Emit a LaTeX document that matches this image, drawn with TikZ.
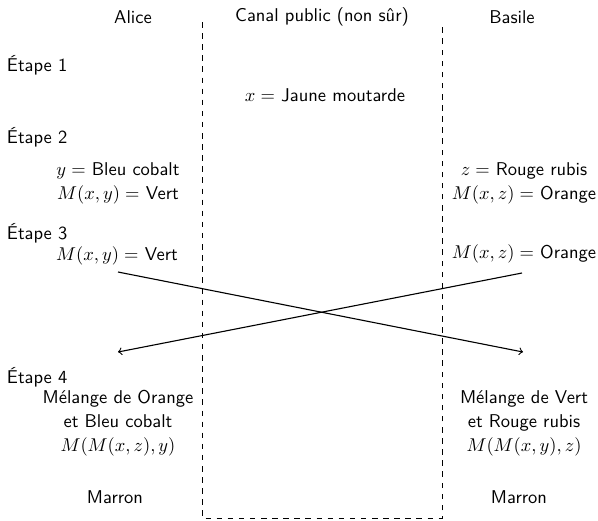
\documentclass[tikz,border=0pt]{standalone}
\usepackage{tikz}
\usetikzlibrary{arrows}
\tikzstyle{base}=[x=0.019cm, y=-0.019cm, inner sep=0pt, outer sep=0pt]
\tikzstyle{txt}=[font=\sffamily, align=center]
\tikzstyle{etape}=[font=\sffamily, anchor=west]
\tikzstyle{border}=[black, dashed, thin]

\begin{document}
\begin{tikzpicture}[base]
    \path [use as bounding box] (0,0) rectangle (598,520);
    % colonnes
    \draw [border] (202,22) -- (202,518) -- (442,518) -- (442,22);
    \node [txt] (alice) at (133,17) {Alice};
    \node [txt] (canal) at (322,17) {Canal public (non sûr)};
    \node [txt] (basile) at (512,17) {Basile};
    % etapes
    \node [etape] (e1) at (7,65) {Étape 1};
    \node [etape] (e2) at (7,137) {Étape 2};
    \node [etape] (e3) at (7,233) {Étape 3};
    \node [etape] (e4) at (7,377) {Étape 4};
    \node [txt] (x) at (325,95) {$x =$ Jaune moutarde};
    \node [txt] (ay) at (118,183) {$y =$ Bleu cobalt\\[1pt]$M(x,y) =$ Vert};
    \node [txt] (bz) at (524,183) {$z =$ Rouge rubis\\[1pt]$M(x,z) =$ Orange};
    \node [txt] (ae) at (117,256) {$M(x,y) =$ Vert};
    \node [txt] (be) at (524,254) {$M(x,z) =$ Orange};
    \coordinate (as) at (118,272);
    \coordinate (bs) at (522,273);
    \coordinate (ar) at (118,352);
    \coordinate (br) at (523,352);
    \draw [->, semithick] (as) -- (br);
    \draw [->, semithick] (bs) -- (ar);
    \node [txt] (amix) at (118,423) {Mélange de Orange\\[1pt]et Bleu cobalt\\[1pt]$M(M(x,z),y)$};
    \node [txt] (bmix) at (524,423) {Mélange de Vert\\[1pt]et Rouge rubis\\[1pt]$M(M(x,y),z)$};
    \node [txt] (am) at (115,497) {Marron};
    \node [txt] (bm) at (519,497) {Marron};
\end{tikzpicture}
\end{document}
